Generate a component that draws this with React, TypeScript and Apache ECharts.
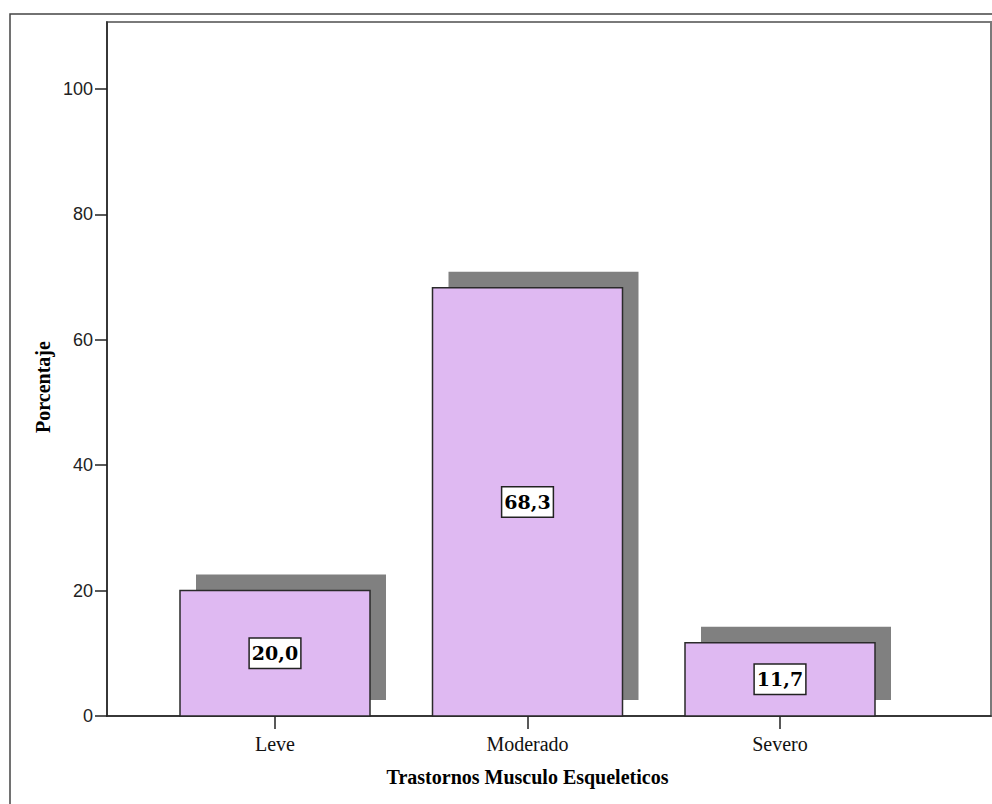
import React, { useEffect, useRef } from "react";
import * as echarts from "echarts";

// Categories and percentages
const categories = ["Leve", "Moderado", "Severo"];
const percentages = [20.0, 68.3, 11.7];
const yTicks = [0, 20, 40, 60, 80, 100];
const yMax = 110.7;

const fmt = (v: number) => v.toFixed(1).replace(".", ",");

export default function App() {
  const ref = useRef<HTMLDivElement>(null);

  useEffect(() => {
    if (!ref.current) return;
    const chart = echarts.init(ref.current, null, { renderer: "svg" });

    const barW = 190;
    const shadow = 16;

    chart.setOption({
      animation: false,
      backgroundColor: "#ffffff",
      graphic: [
        {
          type: "rect",
          shape: { x: 10, y: 14, width: 1000, height: 820 },
          style: { fill: "none", stroke: "#444444", lineWidth: 1.5 },
          silent: true,
          z: -10,
        },
        {
          type: "text",
          x: 43,
          y: 387,
          rotation: Math.PI / 2,
          style: {
            text: "Porcentaje",
            font: "bold 20px 'Liberation Serif', serif",
            fill: "#000",
            align: "center",
            verticalAlign: "middle",
          },
        },
      ],
      grid: [
        {
          left: 107,
          right: 1,
          top: 22,
          bottom: 88,
          show: true,
          borderColor: "#7a7a7a",
          borderWidth: 2,
          backgroundColor: "transparent",
        },
        { left: 148.75, width: 757.5, top: 22, bottom: 88 },
      ],
      xAxis: [
        {
          gridIndex: 0,
          type: "value",
          min: 0,
          max: 1,
          axisLine: { show: true, onZero: false, lineStyle: { color: "#222", width: 1.5 } },
          axisTick: { show: false },
          axisLabel: { show: false },
          splitLine: { show: false },
        },
        {
          gridIndex: 1,
          type: "category",
          data: categories,
          axisLine: { show: false },
          axisTick: {
            show: true,
            alignWithLabel: true,
            length: 13,
            lineStyle: { color: "#222", width: 1.5 },
          },
          axisLabel: {
            margin: 18,
            color: "#111",
            fontFamily: "'Liberation Serif', serif",
            fontSize: 20,
          },
          name: "Trastornos Musculo Esqueleticos",
          nameLocation: "middle",
          nameGap: 51,
          nameTextStyle: {
            color: "#000",
            fontFamily: "'Liberation Serif', serif",
            fontWeight: "bold",
            fontSize: 20,
          },
        },
      ],
      yAxis: [
        {
          gridIndex: 0,
          type: "value",
          min: 0,
          max: yMax,
          axisLine: { show: true, lineStyle: { color: "#222", width: 1.5 } },
          axisTick: {
            show: true,
            length: 12,
            customValues: yTicks,
            lineStyle: { color: "#222", width: 1.5 },
          },
          axisLabel: {
            margin: 14,
            customValues: yTicks,
            color: "#222",
            fontFamily: "'Liberation Sans', Arial, sans-serif",
            fontSize: 18,
          },
          splitLine: { show: false },
        },
        {
          gridIndex: 1,
          type: "value",
          min: 0,
          max: yMax,
          show: false,
        },
      ],
      series: [
        {
          type: "custom",
          xAxisIndex: 1,
          yAxisIndex: 1,
          data: percentages.map((v, i) => [i, v]),
          renderItem: (params: any, api: any) => {
            const idx = api.value(0);
            const val = api.value(1);
            const top = api.coord([idx, val]);
            const base = api.coord([idx, 0]);
            const h = base[1] - top[1];
            const x0 = top[0] - barW / 2;
            return {
              type: "group",
              children: [
                {
                  type: "rect",
                  shape: { x: x0 + shadow, y: top[1] - shadow, width: barW, height: h },
                  style: { fill: "#808080" },
                },
                {
                  type: "rect",
                  shape: { x: x0, y: top[1], width: barW, height: h },
                  style: { fill: "#DFB9F2", stroke: "#2a2a2a", lineWidth: 1.5 },
                },
                {
                  type: "text",
                  x: top[0],
                  y: top[1] + h / 2,
                  style: {
                    text: fmt(val),
                    font: "bold 19px 'DejaVu Serif', serif",
                    fill: "#000",
                    align: "center",
                    verticalAlign: "middle",
                    backgroundColor: "#ffffff",
                    borderColor: "#222",
                    borderWidth: 1.5,
                    padding: [5, 2, 5, 2],
                  },
                },
              ],
            };
          },
        },
      ],
    });

    return () => chart.dispose();
  }, []);

  return (
    <div
      ref={ref}
      style={{ position: "fixed", left: 0, top: 0, width: 992, height: 804 }}
    />
  );
}
